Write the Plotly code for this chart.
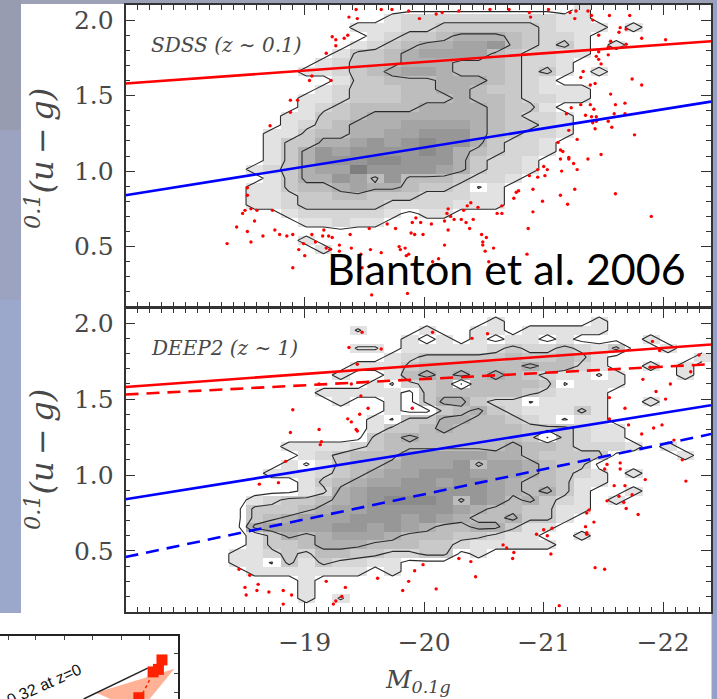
import numpy as np
import plotly.graph_objects as go

W, H = 717, 699
N_BINS = 34
MAG_RANGE = [-17.5, -22.4]
COLOR_RANGE = [0.1, 2.1]
MAG_TICKS = [-19, -20, -21, -22]
COLOR_TICKS = [0.5, 1.0, 1.5, 2.0]

# Gray level per cell: one row per colour bin from the top, (first magnitude bin, digits).
# 0 empty, a nearly empty hole, b a faint isolated cell, 1-9 light to dark.
SDSS_ROWS = [
    (26, "1"),
    (15, "122222222211"),
    (13, "11122333333211101"),
    (14, "1233455543221"),
    (13, "1234556674323101"),
    (12, "133456666432211"),
    (11, "123345554443221"),
    (10, "112345665444323101"),
    (12, "1334445554321"),
    (11, "1233344554332111"),
    (10, "11233344454432211"),
    (10, "123444455554331"),
    (9, "11334555555543221"),
    (9, "12345556666543321"),
    (8, "113445566777543221"),
    (8, "13355676787753221"),
    (8, "13576777787543221"),
    (8, "1357778877753221"),
    (7, "12356697777653221"),
    (8, "135576474443221"),
    (7, "1134456554332a1"),
    (7, "112334433322211"),
    (7, "112333332222111"),
    (9, "1222221011"),
    (10, "11211"),
    (0, ""),
    (10, "1"),
    (11, "1"),
]
DEEP2_ROWS = [
    (0, ""),
    (21, "1000001"),
    (13, "b00010011011111"),
    (16, "101010110100001"),
    (13, "bb01111123223213001"),
    (15, "1233333433431000001"),
    (13, "11134444445442100101"),
    (12, "100145454543211a10001"),
    (14, "1a234a44443a111"),
    (11, "11111034444432111"),
    (12, "10010355322a1111001"),
    (15, "1003453211131"),
    (14, "1a335544321a11"),
    (14, "133454444333211"),
    (14, "3454444443a3211"),
    (9, "11112344444445443222101"),
    (10, "12344466666554333300001"),
    (9, "1a1344566674665433"),
    (8, "1112345667776665432101"),
    (10, "134566776776544311"),
    (10, "12567777777654531001"),
    (7, "1233456788874764532101"),
    (7, "33345667777765443311"),
    (7, "3456667776765445331"),
    (7, "566667767654455311"),
    (7, "13545666544433211001"),
    (7, "133455544433211111"),
    (6, "112324433223301"),
    (6, "11a3132211"),
    (7, "111111101"),
    (10, "1"),
    (10, "1"),
    (10, "10b"),
]

# Outlying galaxies: absolute magnitude and colour
SDSS_MAG = [-19.64,-19.73,-19.87,-19.96,-20.10,-20.15,-20.29,-20.55,-20.71,-20.88,-20.89,-21.04,-21.22,-21.26,-21.27,-21.37,-21.40,-21.41,-21.55,-21.72,-21.64,-21.63,-21.69,-21.46,-21.82,-22.02,-21.56,-21.69,-21.54,-21.46,-21.44,-21.54,-21.48,-21.46,-21.33,-21.31,-21.74,-21.82,-21.39,-21.43,-21.56,-21.68,-21.60,-21.42,-21.39,-21.31,-21.23,-21.19,-21.35,-21.40,-21.44,-21.59,-21.68,-21.41,-21.44,-21.54,-21.57,-21.43,-21.21,-21.28,-21.76,-21.12,-21.14,-21.16,-21.21,-21.14,-21.21,-21.25,-21.37,-21.48,-21.28,-21.15,-21.00,-21.03,-20.95,-21.01,-20.95,-20.88,-20.91,-20.79,-20.77,-20.75,-20.99,-21.14,-21.26,-21.20,-21.60,-21.90,-20.91,-20.87,-20.65,-20.65,-20.61,-20.39,-20.36,-20.33,-20.45,-20.20,-20.19,-20.22,-20.25,-20.31,-20.35,-20.41,-20.17,-20.06,-19.97,-19.93,-19.90,-20.38,-20.20,-19.76,-19.69,-19.54,-20.48,-20.52,-20.49,-20.49,-20.58,-20.51,-20.54,-20.86,-20.17,-19.99,-19.92,-19.89,-19.84,-19.79,-19.80,-19.87,-19.85,-20.12,-20.07,-19.55,-19.64,-19.47,-19.48,-19.56,-19.86,-19.43,-19.37,-19.44,-19.23,-19.26,-19.33,-19.36,-19.26,-19.18,-19.06,-19.04,-19.22,-18.88,-18.94,-18.88,-18.71,-18.52,-18.52,-18.50,-18.48,-18.55,-18.60,-18.73,-18.58,-18.43,-18.52,-18.55,-18.35,-18.65,-18.75,-18.79,-18.85,-18.90,-19.06,-19.09,-18.99,-18.95,-19.00,-18.90,-19.16,-19.15,-19.20,-19.23,-19.18,-19.21,-19.29,-19.29,-19.39,-19.38]
SDSS_COL = [2.07,2.07,2.06,2.01,2.04,2.05,2.06,2.07,2.07,2.05,2.02,2.07,2.05,2.01,2.06,2.06,2.03,2.00,2.03,2.03,1.95,1.92,1.94,1.90,1.88,1.87,1.86,1.84,1.82,1.79,1.76,1.77,1.71,1.74,1.66,1.62,1.61,1.57,1.57,1.58,1.51,1.45,1.44,1.41,1.44,1.44,1.42,1.38,1.37,1.36,1.36,1.38,1.38,1.32,1.33,1.33,1.29,1.28,1.27,1.21,1.24,1.19,1.14,1.13,1.09,1.08,1.08,1.05,1.08,1.11,1.01,1.00,1.03,1.01,1.01,0.97,0.96,0.97,0.88,0.87,0.86,0.82,0.80,0.84,0.88,0.78,0.85,0.70,0.73,0.62,0.77,0.72,0.72,0.79,0.77,0.74,0.76,0.75,0.72,0.70,0.68,0.68,0.66,0.68,0.67,0.65,0.66,0.69,0.66,0.62,0.61,0.62,0.65,0.62,0.58,0.56,0.53,0.51,0.49,0.47,0.40,0.45,0.51,0.58,0.58,0.59,0.49,0.50,0.48,0.45,0.44,0.42,0.40,0.48,0.46,0.45,0.36,0.18,0.19,2.07,2.02,2.01,1.89,1.87,1.88,1.90,1.83,1.78,1.63,1.60,1.60,1.47,1.47,1.39,1.30,0.89,0.84,0.74,0.72,0.75,0.74,0.74,0.67,0.63,0.60,0.53,0.52,0.57,0.61,0.58,0.57,0.58,0.58,0.53,0.52,0.48,0.44,0.36,0.61,0.57,0.57,0.56,0.49,0.48,0.51,0.47,0.49,0.58]
DEEP2_MAG = [-19.48,-19.64,-20.07,-20.40,-20.53,-19.44,-19.47,-19.53,-19.46,-19.44,-19.90,-21.91,-21.97,-22.30,-22.23,-21.89,-21.83,-22.06,-21.94,-22.02,-21.55,-21.68,-21.55,-21.71,-21.92,-21.99,-21.82,-22.09,-21.64,-21.53,-21.51,-21.64,-21.85,-21.59,-21.68,-22.19,-22.16,-21.63,-21.74,-21.53,-21.67,-21.69,-21.79,-21.38,-21.36,-21.42,-21.35,-21.36,-21.36,-21.07,-21.00,-20.94,-21.03,-20.66,-20.69,-20.75,-20.74,-21.06,-20.29,-20.39,-19.99,-19.92,-19.87,-19.82,-20.10,-20.43,-21.43,-21.51,-19.61,-21.13,-19.37,-19.12,-19.39,-18.90,-18.88,-19.12,-19.14,-19.13,-19.36,-19.39,-19.43,-18.84,-18.62,-18.78,-18.45,-18.54,-18.50,-18.51,-18.61,-18.60,-18.70,-18.82,-18.89,-18.82,-19.18,-19.34,-19.24,-19.26,-19.31]
DEEP2_COL = [1.94,1.83,1.94,1.90,1.93,1.73,1.52,1.44,1.40,1.29,1.44,1.88,1.82,1.79,1.68,1.71,1.63,1.60,1.55,1.50,1.51,1.44,1.37,1.33,1.31,1.33,1.27,1.23,1.08,1.07,1.04,1.04,0.97,0.93,0.93,0.96,1.10,0.86,0.87,0.83,0.82,0.78,0.74,0.77,0.75,0.69,0.66,0.62,0.61,0.65,0.64,0.61,0.60,0.54,0.52,0.49,0.45,0.48,0.45,0.43,0.41,0.37,0.30,0.24,0.25,0.33,0.39,0.38,0.32,0.14,1.84,1.60,1.60,1.43,1.28,1.30,1.22,1.20,1.37,1.35,1.30,1.09,0.94,0.95,0.38,0.34,0.26,0.21,0.28,0.24,0.23,0.24,0.21,0.15,0.30,0.26,0.15,0.17,0.20]

# Colour-magnitude fits at the two ends of the magnitude range
RED_Z01 = [1.58, 1.86]
BLUE_Z01 = [0.84, 1.46]
RED_Z1 = [1.53, 1.73]
BLUE_Z1 = [0.46, 1.27]

# Corner of the neighbouring figure
INSET_WEDGE_X = [98, 54, 62, 84, 98]
INSET_WEDGE_Y = [48, 10, 0, 0, 48]
INSET_LINE_X = [83, 47]
INSET_LINE_Y = [49, 0]
INSET_SQUARE_X = [91, 89, 86, 78]
INSET_SQUARE_Y = [62, 47, 43, 2]
INSET_DOT_X = [84, 80]
INSET_DOT_Y = [30, 8]
INSET_TICK_X = [5, 20, 36, 52, 68, 84]
INSET_TICK_Y = [73, 41, 11]

VALUE = {"a": 0.4, "b": 0.6}


def decode(rows):
    z = np.zeros((N_BINS, N_BINS))
    for k, (start, digits) in enumerate(rows):
        for j, ch in enumerate(digits):
            z[k, start + j] = VALUE.get(ch, float(ch) if ch.isdigit() else 0)
    return z


fx = lambda p: p / W
fy = lambda p: 1 - p / H

mag_edges = np.linspace(MAG_RANGE[0], MAG_RANGE[1], N_BINS + 1)
col_edges = np.linspace(COLOR_RANGE[1], COLOR_RANGE[0], N_BINS + 1)
mag_c = (mag_edges[:-1] + mag_edges[1:]) / 2
col_c = (col_edges[:-1] + col_edges[1:]) / 2

fig = go.Figure()
GRAYS = [[0, "#e2e2e2"], [1, "#7e7e7e"]]


def add_panel(rows, mags, cols, xa, ya, dashed):
    z = decode(rows)
    shade = np.where(z < 0.5, np.nan, z)
    fig.add_trace(go.Heatmap(x=mag_c, y=col_c, z=shade, colorscale=GRAYS, zmin=1, zmax=9,
                             showscale=False, hoverinfo="skip", xaxis=xa, yaxis=ya))
    fig.add_trace(go.Contour(x=mag_c, y=col_c, z=z, showscale=False, hoverinfo="skip",
                             contours=dict(coloring="none", start=0.5, end=4.5, size=2),
                             line=dict(color="#2a2a2a", width=1.1, smoothing=0), xaxis=xa, yaxis=ya))
    fig.add_trace(go.Scatter(x=mags, y=cols, mode="markers", xaxis=xa, yaxis=ya,
                             marker=dict(color="#ff0000", size=3.4)))
    for vals, colr in ((RED_Z01, "#ff0000"), (BLUE_Z01, "#0000ff")):
        fig.add_trace(go.Scatter(x=MAG_RANGE, y=vals, mode="lines", xaxis=xa, yaxis=ya,
                                 line=dict(color=colr, width=2.6)))
    if dashed:
        for vals, colr in ((RED_Z1, "#ff0000"), (BLUE_Z1, "#0000ff")):
            fig.add_trace(go.Scatter(x=MAG_RANGE, y=vals, mode="lines", xaxis=xa, yaxis=ya,
                                     line=dict(color=colr, width=2.6, dash="13px,8px")))


add_panel(SDSS_ROWS, SDSS_MAG, SDSS_COL, "x", "y", False)
add_panel(DEEP2_ROWS, DEEP2_MAG, DEEP2_COL, "x2", "y2", True)

fig.add_trace(go.Scatter(x=INSET_WEDGE_X, y=INSET_WEDGE_Y, mode="lines", fill="toself",
                         fillcolor="#ffb295", line=dict(width=0), xaxis="x3", yaxis="y3"))
fig.add_trace(go.Scatter(x=INSET_LINE_X, y=INSET_LINE_Y, mode="lines",
                         line=dict(color="#222", width=1.5), xaxis="x3", yaxis="y3"))
fig.add_trace(go.Scatter(x=INSET_DOT_X, y=INSET_DOT_Y, mode="lines",
                         line=dict(color="#ff2200", width=1.5, dash="dot"), xaxis="x3", yaxis="y3"))
fig.add_trace(go.Scatter(x=INSET_SQUARE_X, y=INSET_SQUARE_Y, mode="markers",
                         marker=dict(color="#ff2200", size=11, symbol="square"), xaxis="x3", yaxis="y3"))

AX = "#333333"
SERIF = "DejaVu Serif"
FONT = dict(family=SERIF, size=25, color="#484848")


def mag_axis(domain, labels):
    return dict(domain=domain, range=MAG_RANGE, tickmode="array", tickvals=MAG_TICKS,
                showticklabels=labels, ticks="inside", ticklen=10, tickwidth=1.2, tickcolor=AX,
                minor=dict(ticks="inside", ticklen=5, tick0=0, dtick=0.1, tickwidth=1, tickcolor=AX),
                showline=True, linecolor=AX, linewidth=1.6, mirror="ticks", showgrid=False,
                zeroline=False, tickfont=FONT, ticklabelstandoff=7)


def col_axis(domain):
    return dict(domain=domain, range=COLOR_RANGE, tickmode="array", tickvals=COLOR_TICKS,
                tickformat=".1f", ticks="inside", ticklen=10, tickwidth=1.2, tickcolor=AX,
                minor=dict(ticks="inside", ticklen=5, tick0=0, dtick=0.1, tickwidth=1, tickcolor=AX),
                showline=True, linecolor=AX, linewidth=1.6, mirror="ticks", showgrid=False,
                zeroline=False, tickfont=FONT, ticklabelstandoff=5)


SLIDE = [
    (0, 0, W, 4, "#9ca1b6"),
    (0, 0, 21, 130, "#989cb0"),
    (0, 130, 21, 300, "#9ca3c0"),
    (0, 300, 21, 613, "#9ba7cb"),
    (711.5, 0, W, 300, "#97a1c6"),
    (711.5, 300, W, H, "#95a0c8"),
]
shapes = [dict(type="rect", xref="paper", yref="paper", x0=fx(a), x1=fx(c), y0=fy(d), y1=fy(b),
               fillcolor=colr, line_width=0, layer="below") for a, b, c, d, colr in SLIDE]


def note(text, px, py, size, family=SERIF, color="#484848", anchor="left", angle=0):
    return dict(text=text, xref="paper", yref="paper", x=fx(px), y=fy(py), showarrow=False,
                xanchor=anchor, yanchor="middle", textangle=angle,
                font=dict(family=family, size=size, color=color))


annotations = [
    note("<i>SDSS (z ∼ 0.1)</i>", 149, 45, 20),
    note("<i>DEEP2 (z ∼ 1)</i>", 149, 348, 20),
    note("<i><sup>0.1</sup>(u\u2009−\u2009g)</i>", 40, 159, 32, anchor="center", angle=-90),
    note("<i><sup>0.1</sup>(u\u2009−\u2009g)</i>", 40, 460, 32, anchor="center", angle=-90),
    note("<i>M<sub>0.1g</sub></i>", 418, 681, 25, anchor="center"),
    note("Blanton et al. 2006", 325, 268, 43, family="Lato", color="#000000"),
    note("0.32 at z=0", 44, 684, 16, family="Liberation Sans", color="#111111", anchor="center", angle=-24),
]

layout = dict(
    width=W, height=H, margin=dict(l=0, r=0, t=0, b=0), showlegend=False,
    autosize=False, paper_bgcolor="#ffffff", plot_bgcolor="#ffffff",
    shapes=shapes, annotations=annotations,
    xaxis=mag_axis([fx(125.5), fx(711)], False),
    yaxis=col_axis([fy(307), fy(5)]),
    xaxis2=mag_axis([fx(125.5), fx(711)], True),
    yaxis2=col_axis([fy(611.7), fy(308)]),
    xaxis3=dict(domain=[0, fx(178)], range=[0, 100], anchor="y3", side="top", tickmode="array",
                tickvals=INSET_TICK_X, ticks="inside", ticklen=4, showticklabels=False,
                showline=True, linecolor="#222", linewidth=1.5, showgrid=False, zeroline=False),
    yaxis3=dict(domain=[0, fy(636)], range=[0, 100], anchor="x3", side="right", tickmode="array",
                tickvals=INSET_TICK_Y, ticks="inside", ticklen=4, showticklabels=False,
                showline=True, linecolor="#222", linewidth=1.5, showgrid=False, zeroline=False),
)
layout["xaxis"]["anchor"] = "y"
layout["yaxis"]["anchor"] = "x"
layout["xaxis2"]["anchor"] = "y2"
layout["yaxis2"]["anchor"] = "x2"
fig.update_layout(**layout)

fig.write_html("out.html", config={"displayModeBar": False},
               post_script="document.body.style.margin='0';document.documentElement.style.overflow='hidden';")
